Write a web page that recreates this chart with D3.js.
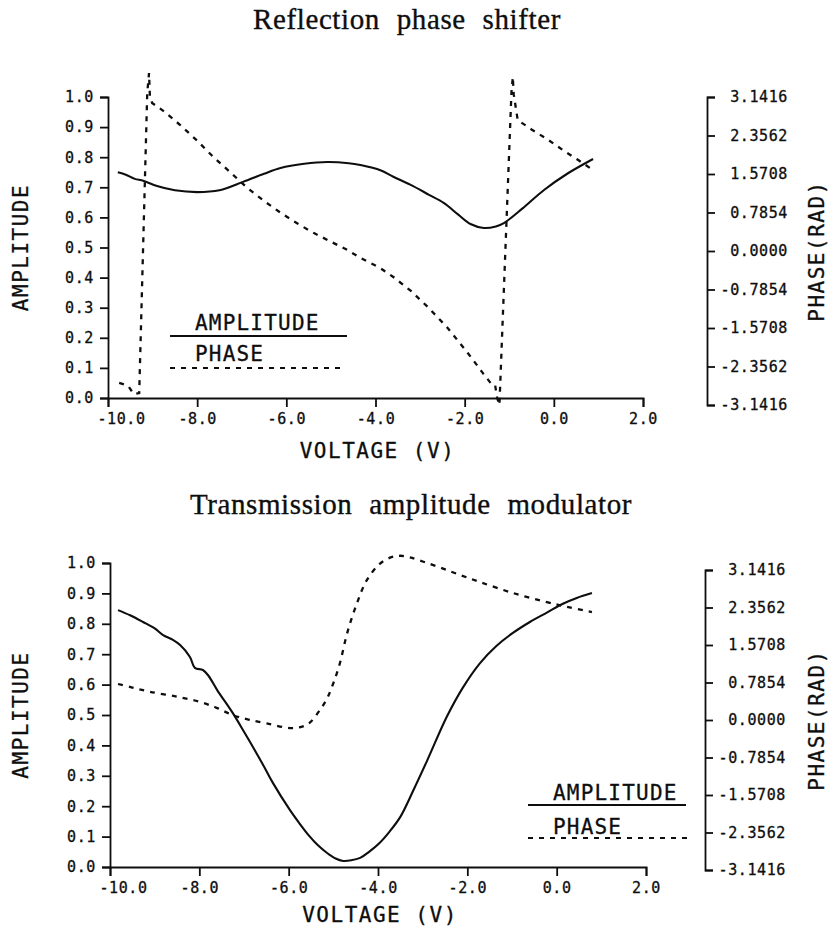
<!DOCTYPE html>
<html>
<head>
<meta charset="utf-8">
<script src="https://cdn.jsdelivr.net/npm/d3@7"></script>
<style>
  html, body { margin: 0; padding: 0; background: #fff; }
  svg { display: block; }
</style>
</head>
<body>
<svg id="chart" width="828" height="930"></svg>
<script>
// ---------------- DATA ----------------
const xTicks = [-10, -8, -6, -4, -2, 0, 2];
const xTickLabels = ["-10.0", "-8.0", "-6.0", "-4.0", "-2.0", "0.0", "2.0"];
const ampTicks = [0, 0.1, 0.2, 0.3, 0.4, 0.5, 0.6, 0.7, 0.8, 0.9, 1.0];
const ampTickLabels = ["0.0", "0.1", "0.2", "0.3", "0.4", "0.5", "0.6", "0.7", "0.8", "0.9", "1.0"];
const phaseTicks = [-Math.PI, -3 * Math.PI / 4, -Math.PI / 2, -Math.PI / 4, 0, Math.PI / 4, Math.PI / 2, 3 * Math.PI / 4, Math.PI];
const phaseTickLabels = ["-3.1416", "-2.3562", "-1.5708", "-0.7854", "0.0000", "0.7854", "1.5708", "2.3562", "3.1416"];

const titles = ["Reflection phase shifter", "Transmission amplitude modulator"];
const xLabel = "VOLTAGE (V)";
const yLabel = "AMPLITUDE";
const y2Label = "PHASE(RAD)";
const legendLabels = ["AMPLITUDE", "PHASE"];

// Reflection phase shifter: amplitude [V, A]
const reflAmp = [
  [-9.78, 0.750], [-9.6, 0.742], [-9.4, 0.728], [-9.21, 0.722], [-8.9, 0.704], [-8.5, 0.690],
  [-8.0, 0.684], [-7.5, 0.690], [-6.97, 0.718], [-6.5, 0.745], [-6.13, 0.764], [-5.6, 0.778],
  [-5.08, 0.784], [-4.6, 0.780], [-4.34, 0.774], [-3.89, 0.757], [-3.6, 0.735], [-3.21, 0.708],
  [-2.8, 0.675], [-2.47, 0.648], [-2.15, 0.610], [-1.87, 0.578], [-1.57, 0.565], [-1.3, 0.570],
  [-1.12, 0.581], [-0.7, 0.630], [-0.22, 0.691], [0.3, 0.745], [0.88, 0.794]
];
// Reflection phase shifter: phase [V, rad]
const reflPhase = [
  [-9.75, -2.69], [-9.55, -2.75], [-9.42, -2.92], [-9.30, -2.90], [-9.12, 3.22], [-9.08, 3.63],
  [-9.06, 3.15], [-9.01, 3.02], [-8.76, 2.86], [-8.38, 2.57], [-8.0, 2.25], [-7.64, 1.92],
  [-7.25, 1.60], [-6.88, 1.29], [-6.5, 1.02], [-6.13, 0.78], [-5.75, 0.56], [-5.39, 0.37],
  [-5.0, 0.19], [-4.63, 0.02], [-4.34, -0.14], [-3.89, -0.35], [-3.6, -0.53], [-3.2, -0.82],
  [-2.83, -1.14], [-2.4, -1.55], [-1.93, -2.08], [-1.6, -2.48], [-1.42, -2.69], [-1.32, -2.72],
  [-1.27, -3.0], [-1.22, -3.14], [-0.95, 3.25], [-0.92, 3.55], [-0.90, 3.2], [-0.81, 2.67],
  [-0.5, 2.48], [-0.13, 2.27], [0.2, 2.06], [0.54, 1.86], [0.88, 1.65]
];
// Transmission amplitude modulator: amplitude [V, A]
const transAmp = [
  [-9.82, 0.845], [-9.55, 0.828], [-9.26, 0.806], [-9.0, 0.785], [-8.81, 0.763], [-8.6, 0.748],
  [-8.43, 0.730], [-8.21, 0.691], [-8.1, 0.655], [-7.92, 0.648], [-7.8, 0.630], [-7.6, 0.582],
  [-7.25, 0.506], [-7.0, 0.445], [-6.8, 0.395], [-6.55, 0.330], [-6.35, 0.276], [-5.97, 0.187],
  [-5.75, 0.142], [-5.55, 0.104], [-5.35, 0.072], [-5.14, 0.046], [-4.95, 0.028], [-4.78, 0.020],
  [-4.6, 0.022], [-4.4, 0.030], [-4.2, 0.050], [-3.96, 0.080], [-3.75, 0.115], [-3.5, 0.165],
  [-3.2, 0.255], [-2.9, 0.350], [-2.46, 0.494], [-2.1, 0.590], [-1.72, 0.670], [-1.35, 0.727],
  [-0.98, 0.770], [-0.6, 0.806], [-0.22, 0.837], [0.14, 0.866], [0.45, 0.885], [0.79, 0.901]
];
// Transmission amplitude modulator: phase [V, rad]
const transPhase = [
  [-9.82, 0.754], [-9.5, 0.68], [-9.1, 0.59], [-8.5, 0.49], [-7.99, 0.38], [-7.6, 0.25],
  [-7.25, 0.10], [-6.9, 0.01], [-6.49, -0.07], [-5.97, -0.17], [-5.7, -0.14], [-5.52, -0.05],
  [-5.3, 0.21], [-5.14, 0.45], [-5.0, 0.77], [-4.85, 1.20], [-4.69, 1.82], [-4.47, 2.45],
  [-4.25, 2.93], [-3.96, 3.27], [-3.7, 3.41], [-3.5, 3.44], [-3.3, 3.41], [-3.0, 3.32],
  [-2.6, 3.19], [-2.2, 3.05], [-1.72, 2.89], [-0.98, 2.66], [-0.22, 2.47], [0.23, 2.37], [0.79, 2.26]
];

// ---------------- LAYOUT ----------------
const panels = [
  { title: titles[0], amp: reflAmp, phase: reflPhase, titleX: 407, titleY: 29, phaseCurve: d3.curveLinear,
    x0: 108, x1: 643, yA0: 398, yA1: 97, yP0: 405, yP1: 97, rightX: 707, xLabelY: 458,
    legend: { x0: 170, x1: 347, tx: 195, ty1: 330, ly1: 336, ty2: 361, ly2: 368, dx1: 341 } },
  { title: titles[1], amp: transAmp, phase: transPhase, titleX: 411, titleY: 514, phaseCurve: d3.curveCatmullRom.alpha(0.5),
    x0: 110, x1: 646, yA0: 867, yA1: 563, yP0: 870, yP1: 570, rightX: 705, xLabelY: 922,
    legend: { x0: 528, x1: 686, tx: 553, ty1: 800, ly1: 805, ty2: 834, ly2: 838, dx1: 689 } }
];

const svg = d3.select("#chart");
const INK = "#0e0e0e";
const MONO = "'DejaVu Sans Mono', 'Liberation Mono', monospace";

panels.forEach(p => {
  const g = svg.append("g");
  const x = d3.scaleLinear().domain([-10, 2]).range([p.x0, p.x1]);
  const yA = d3.scaleLinear().domain([0, 1]).range([p.yA0, p.yA1]);
  const yP = d3.scaleLinear().domain([-Math.PI, Math.PI]).range([p.yP0, p.yP1]);

  // title
  g.append("text")
    .attr("x", p.titleX).attr("y", p.titleY)
    .attr("text-anchor", "middle")
    .style("font-family", "'Liberation Serif', 'Times New Roman', serif")
    .style("font-size", "29px")
    .style("letter-spacing", "0.6px")
    .style("word-spacing", "9px")
    .style("fill", INK).style("stroke", INK).style("stroke-width", "0.35px")
    .text(p.title);

  // axes
  const axX = d3.axisBottom(x).tickValues(xTicks)
    .tickFormat((d, i) => xTickLabels[i]).tickSizeInner(9).tickSizeOuter(9).tickPadding(6);
  const axL = d3.axisLeft(yA).tickValues(ampTicks)
    .tickFormat((d, i) => ampTickLabels[i]).tickSizeInner(8).tickSizeOuter(8).tickPadding(6);
  const axR = d3.axisRight(yP).tickValues(phaseTicks)
    .tickFormat((d, i) => phaseTickLabels[i]).tickSizeInner(8).tickSizeOuter(8).tickPadding(6);

  const gx = g.append("g").attr("transform", `translate(0,${p.yA0})`).call(axX);
  const gl = g.append("g").attr("transform", `translate(${p.x0},0)`).call(axL);
  const gr = g.append("g").attr("transform", `translate(${p.rightX},0)`).call(axR);

  [gx, gl, gr].forEach(a => {
    a.selectAll("path.domain").attr("stroke", INK).attr("stroke-width", 1.8);
    a.selectAll(".tick line").attr("stroke", INK).attr("stroke-width", 1.8);
    a.selectAll("text")
      .style("font-family", MONO).style("font-size", "15px")
      .style("letter-spacing", "0.6px").style("fill", INK)
      .style("stroke", INK).style("stroke-width", "0.3px");
  });
  gr.selectAll(".tick text").attr("text-anchor", "end").attr("x", 81);
  // first x label sits right of its tick, as in the plot
  gx.selectAll(".tick text").filter((d, i) => i === 0).attr("dx", 13);

  // axis titles
  const titleStyle = sel => sel
    .style("font-family", MONO).style("font-size", "21px").style("letter-spacing", "1.5px")
    .style("fill", INK).style("stroke", INK).style("stroke-width", "0.3px");
  g.append("text")
    .attr("x", (p.x0 + p.x1) / 2 + 2).attr("y", p.xLabelY)
    .attr("text-anchor", "middle").call(titleStyle).text(xLabel);
  g.append("text")
    .attr("transform", `translate(28,${(p.yA0 + p.yA1) / 2}) rotate(-90)`)
    .attr("text-anchor", "middle").call(titleStyle).text(yLabel);
  g.append("text")
    .attr("transform", `translate(824,${(p.yP0 + p.yP1) / 2}) rotate(-90)`)
    .attr("text-anchor", "middle").call(titleStyle).text(y2Label);

  // curves
  const ampLine = d3.line().x(d => x(d[0])).y(d => yA(d[1])).curve(d3.curveCatmullRom.alpha(0.5));
  const phaseLine = d3.line().x(d => x(d[0])).y(d => yP(d[1])).curve(p.phaseCurve);

  g.append("path").datum(p.amp).attr("d", ampLine)
    .attr("fill", "none").attr("stroke", INK).attr("stroke-width", 2.1)
    .attr("stroke-linejoin", "round");
  g.append("path").datum(p.phase).attr("d", phaseLine)
    .attr("fill", "none").attr("stroke", INK).attr("stroke-width", 2.3)
    .attr("stroke-dasharray", "5,6");

  // legend
  const L = p.legend;
  g.append("text").attr("x", L.tx).attr("y", L.ty1)
    .call(titleStyle).style("letter-spacing", "1.2px").text(legendLabels[0]);
  g.append("line").attr("x1", L.x0).attr("x2", L.x1).attr("y1", L.ly1).attr("y2", L.ly1)
    .attr("stroke", INK).attr("stroke-width", 2);
  g.append("text").attr("x", L.tx).attr("y", L.ty2)
    .call(titleStyle).style("letter-spacing", "1.2px").text(legendLabels[1]);
  g.append("line").attr("x1", L.x0).attr("x2", L.dx1).attr("y1", L.ly2).attr("y2", L.ly2)
    .attr("stroke", INK).attr("stroke-width", 2).attr("stroke-dasharray", "5,6");
});
</script>
</body>
</html>
